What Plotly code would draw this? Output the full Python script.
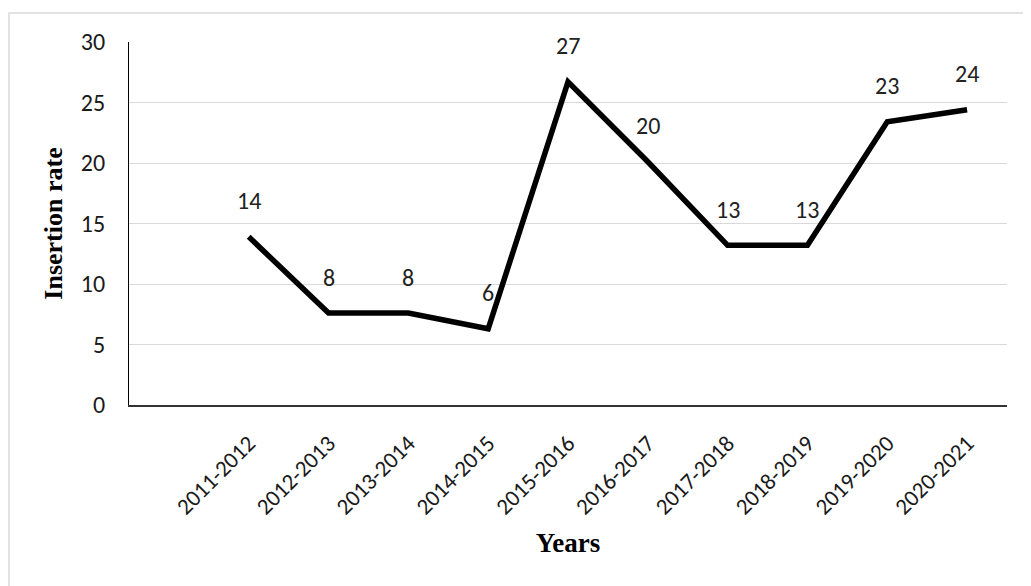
import plotly.graph_objects as go

categories = ["2011-2012", "2012-2013", "2013-2014", "2014-2015", "2015-2016",
              "2016-2017", "2017-2018", "2018-2019", "2019-2020", "2020-2021"]
insertion_rate = [13.9, 7.6, 7.6, 6.3, 26.7, 20.1, 13.2, 13.2, 23.4, 24.4]
point_labels = ["14", "8", "8", "6", "27", "20", "13", "13", "23", "24"]
y_ticks = [0, 5, 10, 15, 20, 25, 30]

LABEL_FONT = "Carlito, Lato, sans-serif"
TITLE_FONT = "Liberation Serif, Times New Roman, serif"

fig = go.Figure()
fig.add_trace(go.Scatter(
    x=categories, y=insertion_rate, mode="lines",
    line=dict(color="black", width=5.5), hoverinfo="x+y", showlegend=False,
))

for c, v, t in zip(categories, insertion_rate, point_labels):
    fig.add_annotation(x=c, y=v, text=t, showarrow=False, yshift=36,
                       font=dict(family=LABEL_FONT, size=24, color="#222222"))

fig.add_shape(type="rect", xref="paper", yref="paper",
              x0=-0.1367, x1=1.1, y0=-0.8, y1=1.08,
              line=dict(color="#d9d9d9", width=1.5), fillcolor="rgba(0,0,0,0)", layer="below")

fig.update_layout(
    width=1023, height=578,
    margin=dict(l=121, r=24, t=34, b=181),
    paper_bgcolor="white", plot_bgcolor="white",
    xaxis=dict(
        type="category", categoryorder="array", categoryarray=categories,
        range=[-1.5, 9.5], showgrid=False, zeroline=False,
        showline=True, linecolor="#333333", linewidth=1.5,
        ticks="", tickangle=-45, ticklabelstandoff=14,
        tickfont=dict(family=LABEL_FONT, size=23, color="#1a1a1a"),
        title=dict(text="<b>Years</b>", standoff=14,
                   font=dict(family=TITLE_FONT, size=27, color="black")),
    ),
    yaxis=dict(
        range=[0, 30], tickvals=y_ticks, showgrid=True, gridcolor="#d9d9d9", gridwidth=1,
        zeroline=False, showline=True, linecolor="black", linewidth=1,
        ticks="", ticklabelstandoff=18,
        tickfont=dict(family=LABEL_FONT, size=24, color="#1a1a1a"),
        title=dict(text="<b>Insertion rate</b>", standoff=10,
                   font=dict(family=TITLE_FONT, size=26, color="black")),
    ),
)

fig.write_html("out.html")
